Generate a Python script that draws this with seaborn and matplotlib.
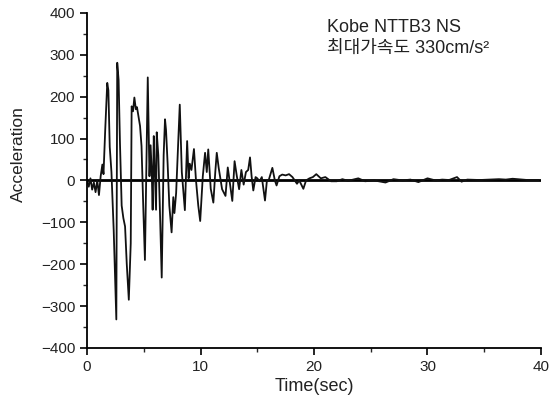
import numpy as np
import pandas as pd
import seaborn as sns
import matplotlib.pyplot as plt
from matplotlib.ticker import MultipleLocator

# Kobe NTTB3 NS record, peaks (sec, cm/s2)
time_sec = [0.0, 0.15, 0.3, 0.45, 0.6, 0.75, 0.9, 1.05, 1.2, 1.35, 1.45,
            1.6, 1.78, 1.88, 2.0, 2.15, 2.35, 2.58, 2.66, 2.78, 2.9, 3.05,
            3.2, 3.35, 3.5, 3.68, 3.85, 3.93, 4.05, 4.17, 4.3, 4.4, 4.55,
            4.67, 4.8, 4.95, 5.1, 5.35, 5.5, 5.6, 5.7, 5.78, 5.88, 5.95,
            6.08, 6.14, 6.28, 6.4, 6.58, 6.75, 6.87, 6.96, 7.1, 7.25, 7.45,
            7.6, 7.7, 7.85, 8.17, 8.35, 8.62, 8.82, 8.95, 9.05, 9.2, 9.42,
            9.6, 9.8, 9.97, 10.2, 10.4, 10.55, 10.68, 10.9, 11.13, 11.3,
            11.43, 11.6, 11.9, 12.2, 12.4, 12.6, 12.8, 13.0, 13.2, 13.4,
            13.6, 13.8, 14.0, 14.2, 14.36, 14.5, 14.65, 14.85, 15.0, 15.2,
            15.4, 15.68, 15.85, 16.0, 16.33, 16.55, 16.7, 16.95, 17.2, 17.5,
            17.8, 18.1, 18.5, 18.7, 19.06, 19.3, 19.6, 19.9, 20.2, 20.6,
            21.0, 21.5, 22.0, 22.5, 23.0, 23.9, 24.5, 25.3, 26.3, 27.0,
            27.8, 28.5, 29.2, 30.0, 30.7, 31.3, 31.9, 32.6, 33.0, 33.5,
            34.6, 36.3, 36.9, 37.5, 38.8, 39.8]
accel = [0, -15, 5, -22, -5, -28, 0, -35, 10, 38, 15,
         120, 233, 215, 80, 20, -120, -332, 281, 240, 90, -60,
         -90, -110, -200, -285, -150, 177, 165, 198, 170, 175, 150,
         130, 82, -60, -190, 246, 10, 84, 20, -70, 106, 40,
         -70, 115, 60, -50, -232, 60, 146, 120, 40, -60, -124,
         -40, -78, -30, 181, 20, -71, 94, 5, 40, 25, 75,
         0, -60, -97, 10, 66, 20, 74, -20, -53, 20,
         66, 30, -21, -37, 31, -10, -49, 46, 10, -21,
         25, -10, 20, 25, 55, 10, -24, 8, 5, -2,
         8, -48, 0, 0, 30, 0, -12, 10, 14, 12,
         15, 8, -8, 0, -20, 0, 5, 8, 15, 5,
         8, -2, -2, 3, -1, 5, -2, 0, -5, 3,
         0, 2, -4, 5, 0, 2, 1, 8, -3, 2,
         1, 3, 2, 4, 1, 1]

df = pd.DataFrame({"time": time_sec, "acc": accel})

sns.set_style("ticks")
plt.rcParams['font.family'] = ['Liberation Sans', 'Noto Sans CJK KR', 'DejaVu Sans']
plt.rcParams['axes.unicode_minus'] = True

fig = plt.figure(figsize=(5.58, 4.05), dpi=100)
ax = fig.add_axes([0.156, 0.141, 0.8135, 0.827])

# zero line drawn heavy, like the original
ax.axhline(0, color='black', linewidth=2.0, zorder=1)
sns.lineplot(data=df, x="time", y="acc", color='#111111', linewidth=1.3,
             estimator=None, sort=False, ax=ax, zorder=2)

ax.set_xlim(0, 40)
ax.set_ylim(-400, 400)
ax.xaxis.set_major_locator(MultipleLocator(10))
ax.xaxis.set_minor_locator(MultipleLocator(5))
ax.yaxis.set_major_locator(MultipleLocator(100))
ax.yaxis.set_minor_locator(MultipleLocator(50))
ax.tick_params(which='major', direction='out', length=5, width=1.2,
               labelsize=11, color='black', labelcolor='#222222')
ax.tick_params(which='minor', direction='out', length=3, width=1.0)

for side in ['top', 'right']:
    ax.spines[side].set_visible(False)
for side in ['left', 'bottom']:
    ax.spines[side].set_linewidth(1.3)
    ax.spines[side].set_color('black')

ax.set_xlabel("Time(sec)", fontsize=13, color='#222222')
ax.set_ylabel("Acceleration", fontsize=12.5, color='#222222')
ax.xaxis.set_label_coords(0.5, -0.09)
ax.yaxis.set_label_coords(-0.135, 0.58)

ax.text(0.529, 0.944, "Kobe NTTB3 NS", transform=ax.transAxes,
        fontsize=13, va='baseline', ha='left', color='#222222')
ax.text(0.529, 0.881, "최대가속도 330cm/s²", transform=ax.transAxes,
        fontsize=13, va='baseline', ha='left', color='#222222')

plt.savefig("out.png", dpi=100)
